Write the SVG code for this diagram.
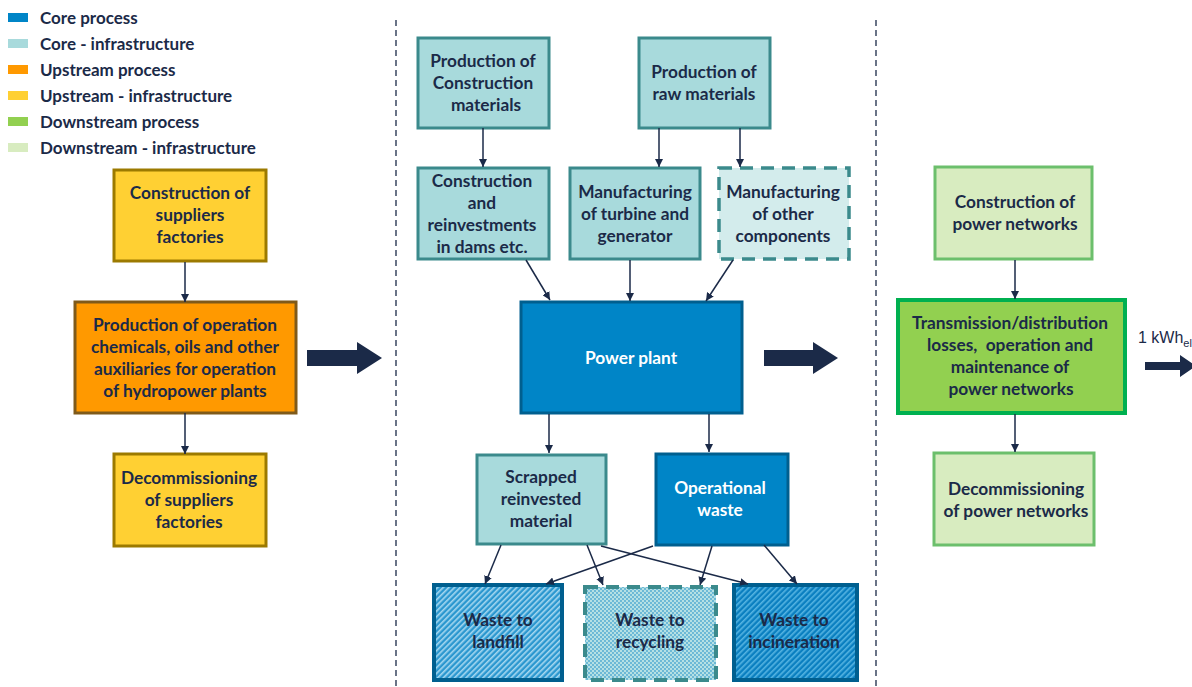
<svg xmlns="http://www.w3.org/2000/svg" width="1192" height="687" viewBox="0 0 1192 687">
<style>
.t{font-family:Lato,"Liberation Sans",sans-serif;font-weight:bold;font-size:17.3px;fill:#1b2a48;text-anchor:middle}
.tw{fill:#ffffff}
.lg{font-family:Lato,"Liberation Sans",sans-serif;font-weight:bold;font-size:17px;fill:#1b2a48}
.up{fill:#ffd033;stroke:#9c7a00;stroke-width:3}
.upp{fill:#ff9900;stroke:#7f5a1a;stroke-width:3}
.ci{fill:#a8dadc;stroke:#3b8a8c;stroke-width:3}
.cid{fill:#d3ecec;stroke:#3b8a8c;stroke-width:3.5;stroke-dasharray:13 8}
.cp{fill:#0085c7;stroke:#005f8f;stroke-width:3}
.di{fill:#d8ecc0;stroke:#6cbf6c;stroke-width:3}
.dp{fill:#92d050;stroke:#00b050;stroke-width:4}
.c{stroke:#1b2a48;stroke-width:1.5;fill:none;marker-end:url(#ah)}
.div{stroke:#1b2a48;stroke-width:1.3;stroke-dasharray:6 4}
.big{fill:#1b2a48}
</style>
<defs>
<marker id="ah" viewBox="0 0 10 10" refX="10" refY="5" markerWidth="8" markerHeight="8" markerUnits="userSpaceOnUse" orient="auto">
<path d="M0,0 L10,5 L0,10 z" fill="#1b2a48"/>
</marker>
<pattern id="hl" width="4" height="4" patternUnits="userSpaceOnUse" patternTransform="rotate(45)">
<rect width="4" height="4" fill="#2b97cf"/>
<rect width="1.6" height="4" fill="#a6d8f0"/>
</pattern>
<pattern id="hi" width="4" height="4" patternUnits="userSpaceOnUse" patternTransform="rotate(45)">
<rect width="4" height="4" fill="#0a7fc0"/>
<rect width="1.6" height="4" fill="#55b4e2"/>
</pattern>
<pattern id="dr" width="4" height="4" patternUnits="userSpaceOnUse">
<rect width="4" height="4" fill="#b5e0e4"/>
<circle cx="1" cy="1" r="0.9" fill="#4aa6d0"/>
<circle cx="3" cy="3" r="0.9" fill="#4aa6d0"/>
</pattern>
</defs>

<g id="legend">
<rect x="8" y="13" width="20" height="9" fill="#0085c7"/>
<text class="lg" x="40" y="24">Core process</text>
<rect x="8" y="39" width="20" height="9" fill="#a8dadc"/>
<text class="lg" x="40" y="50">Core - infrastructure</text>
<rect x="8" y="65" width="20" height="9" fill="#ff9900"/>
<text class="lg" x="40" y="76">Upstream process</text>
<rect x="8" y="91" width="20" height="9" fill="#ffd033"/>
<text class="lg" x="40" y="102">Upstream - infrastructure</text>
<rect x="8" y="117" width="20" height="9" fill="#92d050"/>
<text class="lg" x="40" y="128">Downstream process</text>
<rect x="8" y="143" width="20" height="9" fill="#d8ecc0"/>
<text class="lg" x="40" y="154">Downstream - infrastructure</text>
</g>

<g id="dividers">
<line class="div" x1="396" y1="20" x2="396" y2="687"/>
<line class="div" x1="876" y1="20" x2="876" y2="687"/>
</g>

<g id="n_constr_suppliers">
<rect class="up" x="114" y="170" width="152" height="91"/>
<text class="t" x="190" y="199">Construction of</text>
<text class="t" x="190" y="221">suppliers</text>
<text class="t" x="190" y="243">factories</text>
</g>
<g id="n_production_aux">
<rect class="upp" x="75" y="302" width="221" height="111"/>
<text class="t" x="185" y="331">Production of operation</text>
<text class="t" x="185" y="353">chemicals, oils and other</text>
<text class="t" x="185" y="375">auxiliaries for operation</text>
<text class="t" x="185" y="397">of hydropower plants</text>
</g>
<g id="n_decom_suppliers">
<rect class="up" x="114" y="454" width="152" height="92"/>
<text class="t" x="189" y="484">Decommissioning</text>
<text class="t" x="189" y="506">of suppliers</text>
<text class="t" x="189" y="528">factories</text>
</g>

<g id="n_prod_constr_mat">
<rect class="ci" x="418" y="38" width="131" height="90"/>
<text class="t" x="483" y="67">Production of</text>
<text class="t" x="483" y="89">Construction</text>
<text class="t" x="486" y="111">materials</text>
</g>
<g id="n_prod_raw">
<rect class="ci" x="639" y="38" width="131" height="90"/>
<text class="t" x="704" y="78">Production of</text>
<text class="t" x="704" y="100">raw materials</text>
</g>
<g id="n_constr_dams">
<rect class="ci" x="418" y="168" width="131" height="91"/>
<text class="t" x="482" y="187">Construction</text>
<text class="t" x="482" y="209">and</text>
<text class="t" x="482" y="231">reinvestments</text>
<text class="t" x="482" y="253">in dams etc.</text>
</g>
<g id="n_turbine">
<rect class="ci" x="570" y="168" width="130" height="91"/>
<text class="t" x="635" y="198">Manufacturing</text>
<text class="t" x="635" y="220">of turbine and</text>
<text class="t" x="635" y="242">generator</text>
</g>
<g id="n_other_comp">
<rect class="cid" x="719" y="168" width="130" height="91"/>
<text class="t" x="783" y="198">Manufacturing</text>
<text class="t" x="783" y="220">of other</text>
<text class="t" x="783" y="242">components</text>
</g>
<g id="n_power_plant">
<rect class="cp" x="521" y="302" width="221" height="111"/>
<text class="t tw" x="631" y="364">Power plant</text>
</g>
<g id="n_scrapped">
<rect class="ci" x="477" y="455" width="129" height="89"/>
<text class="t" x="541" y="483">Scrapped</text>
<text class="t" x="541" y="505">reinvested</text>
<text class="t" x="541" y="527">material</text>
</g>
<g id="n_op_waste">
<rect class="cp" x="656" y="454" width="132" height="91" stroke-width="4"/>
<text class="t tw" x="720" y="494">Operational</text>
<text class="t tw" x="720" y="516">waste</text>
</g>
<g id="n_landfill">
<rect x="434" y="585" width="128" height="95" fill="url(#hl)" stroke="#005f8f" stroke-width="4"/>
<text class="t" x="498" y="626">Waste to</text>
<text class="t" x="498" y="648">landfill</text>
</g>
<g id="n_recycling">
<rect x="585" y="587" width="131" height="93" fill="url(#dr)" stroke="#3b8a8c" stroke-width="4" stroke-dasharray="13 8"/>
<text class="t" x="650" y="626">Waste to</text>
<text class="t" x="650" y="648">recycling</text>
</g>
<g id="n_incineration">
<rect x="734" y="585" width="123" height="95" fill="url(#hi)" stroke="#005f8f" stroke-width="4"/>
<text class="t" x="794" y="626">Waste to</text>
<text class="t" x="794" y="648">incineration</text>
</g>

<g id="n_constr_networks">
<rect class="di" x="935" y="167" width="157" height="92"/>
<text class="t" x="1015" y="208">Construction of</text>
<text class="t" x="1015" y="230">power networks</text>
</g>
<g id="n_transmission">
<rect class="dp" x="898" y="300" width="227" height="113"/>
<text class="t" x="1010" y="329">Transmission/distribution</text>
<text class="t" x="1010" y="351" style="white-space:pre">losses,  operation and</text>
<text class="t" x="1010" y="373">maintenance of</text>
<text class="t" x="1011" y="395">power networks</text>
</g>
<g id="n_decom_networks">
<rect class="di" x="934" y="453" width="160" height="92"/>
<text class="t" x="1016" y="495">Decommissioning</text>
<text class="t" x="1016" y="517">of power networks</text>
</g>

<g id="output_label">
<text x="1138" y="343" font-family="'Liberation Sans',Arial,sans-serif" font-size="16" fill="#1b2a48">1 kWh<tspan font-size="11" dy="4">el</tspan></text>
</g>

<g id="connectors">
<line class="c" x1="185" y1="262" x2="185" y2="302"/>
<line class="c" x1="185" y1="413" x2="185" y2="454"/>
<line class="c" x1="483" y1="128" x2="483" y2="167"/>
<line class="c" x1="659" y1="128" x2="659" y2="167"/>
<line class="c" x1="740" y1="128" x2="740" y2="167"/>
<line class="c" x1="526" y1="260" x2="550" y2="300"/>
<line class="c" x1="630" y1="260" x2="630" y2="301"/>
<line class="c" x1="733" y1="260" x2="706" y2="301"/>
<line class="c" x1="549" y1="414" x2="549" y2="453"/>
<line class="c" x1="709" y1="414" x2="709" y2="452"/>
<line class="c" x1="501" y1="545" x2="485" y2="584"/>
<line class="c" x1="587" y1="545" x2="603" y2="585"/>
<line class="c" x1="601" y1="546" x2="748" y2="584"/>
<line class="c" x1="653" y1="546" x2="546" y2="584"/>
<line class="c" x1="712" y1="546" x2="700" y2="585"/>
<line class="c" x1="764" y1="545" x2="797" y2="584"/>
<line class="c" x1="1015" y1="260" x2="1015" y2="299"/>
<line class="c" x1="1015" y1="414" x2="1015" y2="452"/>
<path class="big" d="M307,350 H357 V342 L382,358 L357,374 V366 H307 Z"/>
<path class="big" d="M764,350 H813 V342 L838,358 L813,374 V366 H764 Z"/>
<path class="big" d="M1145,362 H1180 V355 L1196,366 L1180,377 V370 H1145 Z"/>
</g>
</svg>
